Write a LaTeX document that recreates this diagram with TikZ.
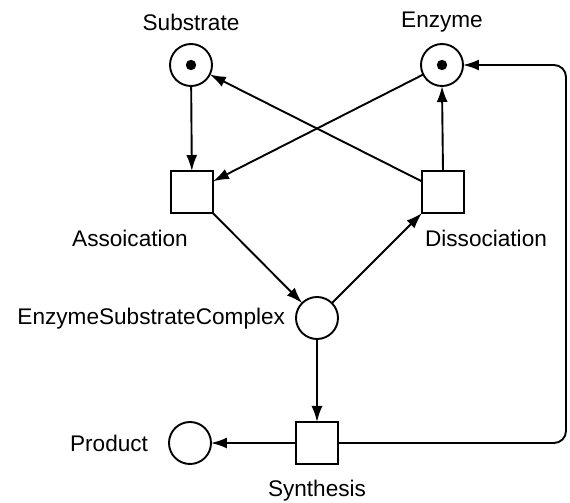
\documentclass[tikz,border=0pt]{standalone}
\usepackage{fontspec}
\setmainfont{Liberation Sans}
\usetikzlibrary{arrows.meta}
\begin{document}
\begin{tikzpicture}[x=0.5pt,y=-0.5pt,inner sep=0pt,outer sep=0pt,line width=0.95pt,
>={Latex[length=8pt,width=5.5pt]},
place/.style={draw,circle,minimum size=21pt},
trans/.style={draw,rectangle,minimum width=21pt,minimum height=21pt},
lbl/.style={font=\fontsize{11.3}{13}\selectfont}]
\useasboundingbox (0,0) rectangle (570,503);
% places and transitions
\draw (191,65) node[place] (sub) {};
\draw (442,65) node[place] (enz) {};
\draw (192,192) node[trans] (asc) {};
\draw (443,192) node[trans] (dis) {};
\draw (317,318) node[place] (esc) {};
\draw (317,443) node[trans] (syn) {};
\draw (190,443) node[place] (prod) {};
% tokens
\fill (sub) circle (2.6pt);
\fill (enz) circle (2.6pt);
% labels
\node[lbl] (subl) at (191,22) {Substrate};
\node[lbl] (enzl) at (442,22) {Enzyme};
\node[lbl] (ascl) at (130,238) {Assoication};
\node[lbl] (disl) at (486,238) {Dissociation};
\node[lbl,anchor=east] (escl) at (285,319) {EnzymeSubstrateComplex};
\node[lbl] (synl) at (317,491) {Synthesis};
\node[lbl,anchor=east] (prodl) at (148,443) {Product};
% arcs
\coordinate (back) at (566,65);
\draw[->] (sub) -- (asc);
\draw[->] (enz) -- (asc);
\draw[->] (asc) -- (esc);
\draw[->] (esc) -- (dis);
\draw[->] (dis) -- (sub);
\draw[->] (dis.north) -- (enz.south);
\draw[->] (esc) -- (syn);
\draw[->] (syn) -- (prod);
\draw[->,rounded corners=6pt] (syn.east) -| (back) -- (enz.east);
\end{tikzpicture}
\end{document}
